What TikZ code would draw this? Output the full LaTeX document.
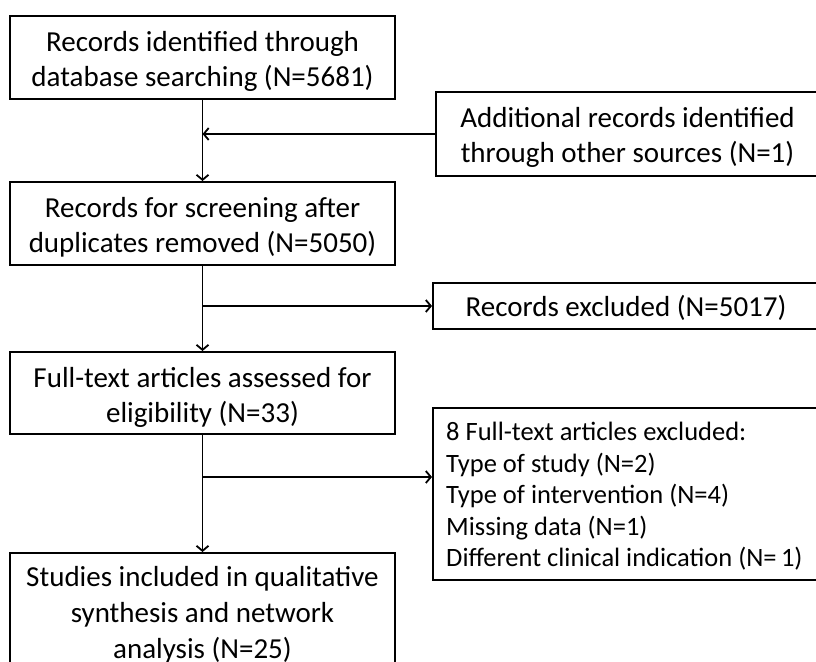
\documentclass[tikz,border=0pt]{standalone}
\usepackage{fontspec}
\setmainfont{Carlito}
\usetikzlibrary{arrows.meta,positioning}
\begin{document}
\begin{tikzpicture}[x=1pt,y=-1pt,
  frame/.style={draw, line width=2pt, inner sep=0pt},
  txt/.style={inner sep=0pt, align=center, font=\fontsize{29}{35}\selectfont},
  conn/.style={line width=1.8pt},
  arr/.style={line width=1.8pt, -{Straight Barb[length=5pt,width=12pt,line width=1.8pt]}}]
\useasboundingbox (0,0) rectangle (816,661);
\clip (0,0) rectangle (816,661);
\node[frame, minimum width=385pt, minimum height=83pt] (b1) at (202.5,57.5) {};
\node[txt] (t1) at (202.5,61) {Records identified through\\database searching (N=5681)};
\node[frame, minimum width=383pt, minimum height=84pt] (b2) at (627.5,134) {};
\node[txt] (t2) at (627.5,137) {Additional records identified\\through other sources (N=1)};
\node[frame, minimum width=385pt, minimum height=83pt] (b3) at (202.5,223.5) {};
\node[txt] (t3) at (202.5,227.5) {Records for screening after\\duplicates removed (N=5050)};
\node[frame, minimum width=386pt, minimum height=46pt] (b4) at (626,306) {};
\node[txt] (t4) at (626,308) {Records excluded (N=5017)};
\node[frame, minimum width=385pt, minimum height=82pt] (b5) at (202.5,393) {};
\node[txt] (t5) at (202.5,397) {Full-text articles assessed for\\eligibility (N=33)};
\node[frame, minimum width=386pt, minimum height=172pt] (b6) at (626,494) {};
\node[anchor=north west, align=left, inner sep=0pt, font=\fontsize{26.5}{31.5}\selectfont] (t6) at (446,422) {8 Full-text articles excluded:\\Type of study (N=2)\\Type of intervention (N=4)\\Missing data (N=1)\\Different clinical indication (N=\,1)};
\node[frame, minimum width=385pt, minimum height=130pt, anchor=north] (b7) at (202.5,552) {};
\node[txt, anchor=north, font=\fontsize{29}{36}\selectfont] (t7) at (202.5,566) {Studies included in qualitative\\synthesis and network\\analysis (N=25)};
\coordinate (j1) at (b1.south |- b2.west);
\coordinate (j2) at (b3.south |- b4.west);
\coordinate (j3) at (b5.south |- 0,477);
\draw[conn] (b1.south) -- (j1);
\draw[arr] (j1) -- (b3.north);
\draw[arr] (b2.west) -- (j1);
\draw[conn] (b3.south) -- (j2);
\draw[arr] (j2) -- (b5.north);
\draw[arr] (j2) -- (b4.west);
\draw[conn] (b5.south) -- (j3);
\draw[arr] (j3) -- (b7.north);
\draw[arr] (j3) -- (b6.west |- j3);
\end{tikzpicture}
\end{document}
